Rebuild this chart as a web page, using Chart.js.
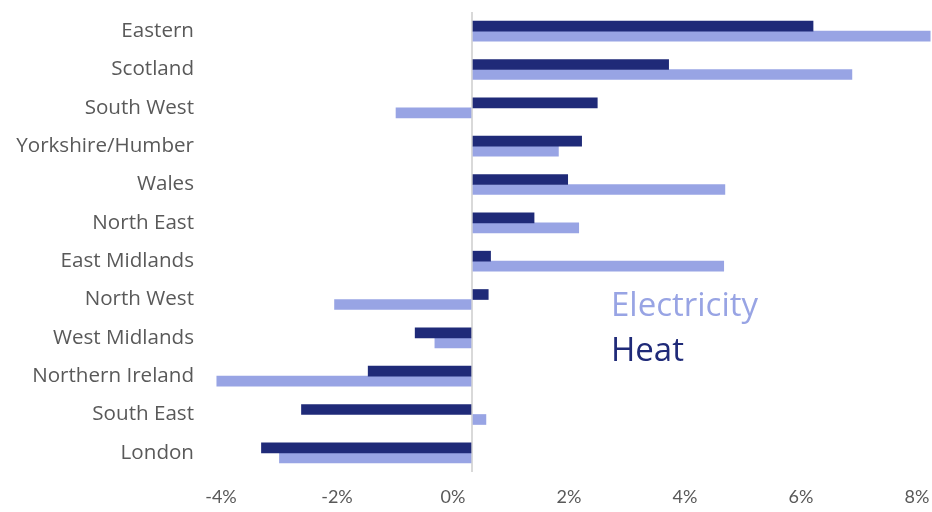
<!DOCTYPE html>
<html>
<head>
<meta charset="utf-8">
<script src="https://cdn.jsdelivr.net/npm/chart.js@4/dist/chart.umd.min.js"></script>
<style>
    html, body { margin: 0; padding: 0; background: #ffffff; }
    #wrap { position: relative; width: 932px; height: 512px; }
    .legend-text { position: absolute; font-family: "Open Sans", sans-serif; font-size: 33px; line-height: 1; white-space: nowrap; }
</style>
</head>
<body>
<div id="wrap">
    <canvas id="region-chart" width="932" height="512"></canvas>
    <div class="legend-text" id="legend-electricity" style="left: 611px; top: 287px; color: #98a4e4;">Electricity</div>
    <div class="legend-text" id="legend-heat" style="left: 611px; top: 332px; color: #1f2a78;">Heat</div>
</div>
<script>
// Regions, top to bottom
const regions = ['Eastern', 'Scotland', 'South West', 'Yorkshire/Humber', 'Wales', 'North East',
    'East Midlands', 'North West', 'West Midlands', 'Northern Ireland', 'South East', 'London'];

// Percentage change
const heatValues = [5.88, 3.39, 2.16, 1.89, 1.65, 1.07, 0.32, 0.28, -0.98, -1.79, -2.94, -3.63];
const electricityValues = [7.9, 6.55, -1.31, 1.49, 4.36, 1.84, 4.34, -2.37, -0.64, -4.40, 0.24, -3.32];

const xTicks = [-4, -2, 0, 2, 4, 6, 8];

const heatColor = '#1f2a78';
const electricityColor = '#98a4e4';

document.addEventListener('DOMContentLoaded', function() {
    const ctx = document.getElementById('region-chart');

    new Chart(ctx, {
        type: 'bar',
        data: {
            labels: regions,
            datasets: [{
                label: 'Heat',
                data: heatValues,
                backgroundColor: heatColor,
                borderWidth: 0,
                barThickness: 10
            }, {
                label: 'Electricity',
                data: electricityValues,
                backgroundColor: electricityColor,
                borderWidth: 0,
                barThickness: 10
            }]
        },
        options: {
            indexAxis: 'y',
            responsive: false,
            animation: false,
            layout: {
                padding: { top: 12, right: 0, bottom: 0, left: 0 }
            },
            plugins: {
                legend: { display: false },
                tooltip: { enabled: false }
            },
            scales: {
                x: {
                    min: -4.5,
                    max: 7.931,
                    afterBuildTicks: function(axis) {
                        axis.ticks = xTicks.map(v => ({ value: v }));
                    },
                    afterFit: function(axis) {
                        axis.height = 40;
                        axis.paddingLeft = 0;
                        axis.paddingRight = 0;
                    },
                    border: { display: false },
                    grid: {
                        drawTicks: false,
                        lineWidth: 2,
                        color: function(c) {
                            return c.tick && c.tick.value === 0 ? '#d9d9d9' : 'rgba(0,0,0,0)';
                        }
                    },
                    ticks: {
                        autoSkip: false,
                        maxRotation: 0,
                        padding: 14,
                        labelOffset: -19,
                        color: '#595959',
                        font: { family: 'Lato', size: 18 },
                        callback: function(value) {
                            return value + '%';
                        }
                    }
                },
                y: {
                    afterFit: function(axis) {
                        axis.width = 211;
                        axis.paddingTop = 0;
                        axis.paddingBottom = 0;
                    },
                    border: { display: false },
                    grid: { display: false, drawTicks: false },
                    ticks: {
                        padding: 17,
                        color: '#595959',
                        font: { family: 'Open Sans', size: 20.6 }
                    }
                }
            }
        }
    });
});
</script>
</body>
</html>
